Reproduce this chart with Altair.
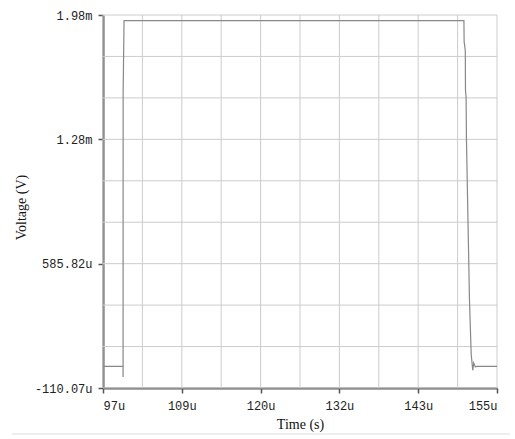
import altair as alt
import pandas as pd

# Transient response of the node voltage (time in µs, voltage in µV)
time_us = [97.0, 99.95, 99.955, 99.965, 100.1, 150.13, 150.16, 150.33, 150.36,
           150.45, 150.5, 150.95, 151.2, 151.43, 151.57, 151.8, 152.1, 155.0]
volt_uv = [11.0, 11.0, -48.0, 1540.0, 1946.0, 1946.0, 1830.0, 1780.0, 1556.0,
           1520.0, 1290.0, 381.0, 80.0, -11.0, 30.0, 8.0, 11.0, 11.0]

# Axis ticks and their labels
x_ticks = [97.0, 108.6, 120.2, 131.8, 143.4, 155.0]
x_labels = ["97u", "109u", "120u", "132u", "143u", "155u"]
y_ticks = [-110.07, 585.82, 1281.71, 1977.60]
y_labels = ["-110.07u", "585.82u", "1.28m", "1.98m"]

# Grid lines: two per labelled x tick, three per labelled y tick
x_grid = [97.0 + 5.8 * i for i in range(11)]
y_grid = [-110.07 + 231.963 * i for i in range(10)]

x_dom = [97.0, 155.0]
y_dom = [-110.07, 1977.60]


def label_expr(vals, labs):
    expr = "''"
    for v, l in zip(vals, labs):
        expr = f"abs(datum.value - {v}) < 0.01 ? '{l}' : ({expr})"
    return expr


df = pd.DataFrame({"t": time_us, "v": volt_uv})
xs = alt.Scale(domain=x_dom, nice=False, zero=False)
ys = alt.Scale(domain=y_dom, nice=False, zero=False)

grid_col = "#cccccc"
vgrid = alt.Chart(pd.DataFrame({"t": x_grid})).mark_rule(
    color=grid_col, strokeWidth=1
).encode(x=alt.X("t:Q", scale=xs))
hgrid = alt.Chart(pd.DataFrame({"v": y_grid})).mark_rule(
    color=grid_col, strokeWidth=1
).encode(y=alt.Y("v:Q", scale=ys))

# Thin separator along the bottom of the panel
separator = alt.Chart(pd.DataFrame({"k": [0]})).mark_rule(
    color="#eeeeee", strokeWidth=2
).encode(x=alt.value(-91), x2=alt.value(407), y=alt.value(419))

line = alt.Chart(df).mark_line(color="#888888", strokeWidth=1.2).encode(
    x=alt.X(
        "t:Q", scale=xs, title="Time (s)",
        axis=alt.Axis(values=x_ticks, labelExpr=label_expr(x_ticks, x_labels),
                      grid=False),
    ),
    y=alt.Y(
        "v:Q", scale=ys, title="Voltage (V)",
        axis=alt.Axis(values=y_ticks, labelExpr=label_expr(y_ticks, y_labels),
                      grid=False),
    ),
    order=alt.Order("idx:Q"),
).transform_window(idx="row_number()")

chart = (
    alt.layer(vgrid, hgrid, separator, line)
    .properties(
        width=394,
        height=373,
        autosize=alt.AutoSizeParams(type="none"),
        padding={"left": 103, "top": 15, "right": 18, "bottom": 51},
        background="white",
    )
    .configure_view(stroke=None)
    .configure_axis(
        domainColor="#555555",
        domainWidth=2,
        tickColor="#555555",
        tickWidth=1.5,
        tickSize=5,
        labelFont="Liberation Mono",
        labelFontSize=12,
        labelColor="#222222",
        labelPadding=4,
        titleFont="Liberation Serif",
        titleFontSize=14,
        titleFontWeight="normal",
        titleColor="#111111",
    )
    .configure_axisX(labelPadding=7, titlePadding=6)
    .configure_axisY(labelPadding=6, titlePadding=6, titleY=192)
)

chart.save("out.html", embed_options={"renderer": "svg", "actions": False})
